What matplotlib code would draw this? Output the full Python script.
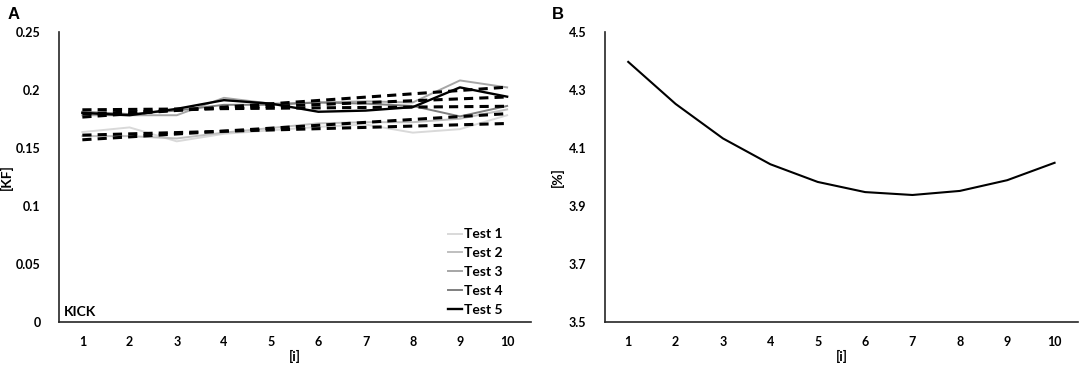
import numpy as np
import matplotlib
matplotlib.use("Agg")
import matplotlib.pyplot as plt

plt.rcParams['font.family'] = ['Lato', 'DejaVu Sans']
plt.rcParams['font.weight'] = 'bold'

# data
reps = [1, 2, 3, 4, 5, 6, 7, 8, 9, 10]
test_names = ['Test 1', 'Test 2', 'Test 3', 'Test 4', 'Test 5']
test1 = [0.1635, 0.1675, 0.1555, 0.162, 0.165, 0.168, 0.170, 0.163, 0.166, 0.178]
test2 = [0.160, 0.160, 0.158, 0.163, 0.167, 0.171, 0.172, 0.172, 0.175, 0.183]
test3 = [0.178, 0.178, 0.178, 0.193, 0.188, 0.189, 0.190, 0.189, 0.208, 0.202]
test4 = [0.181, 0.179, 0.182, 0.187, 0.187, 0.189, 0.188, 0.186, 0.177, 0.186]
test5 = [0.180, 0.178, 0.1835, 0.191, 0.188, 0.181, 0.182, 0.185, 0.202, 0.194]
test_colors = ['#d9d9d9', '#bfbfbf', '#a6a6a6', '#7f7f7f', '#000000']
error_pct = [4.396, 4.251, 4.132, 4.043, 3.982, 3.947, 3.937, 3.951, 3.988, 4.048]

fig = plt.figure(figsize=(10.84, 3.65), dpi=100)
axA = fig.add_axes([0.0542, 0.1186, 0.4354, 0.7945])
axB = fig.add_axes([0.5577, 0.1186, 0.437, 0.7945])

x = np.array(reps)
for name, vals, col in zip(test_names, [test1, test2, test3, test4, test5], test_colors):
    lw = 1.7 if col == '#000000' else 1.4
    axA.plot(x, vals, color=col, lw=lw, label=name, zorder=2)
# linear trend lines
for vals in [test1, test2, test3, test4, test5]:
    k, b = np.polyfit(x, vals, 1)
    axA.plot(x, k * x + b, color='black', lw=2.2, ls=(0, (3, 2)), zorder=3)

axA.set_xlim(0.5, 10.5)
axA.set_ylim(0, 0.25)
axA.set_yticks([0, 0.05, 0.1, 0.15, 0.2, 0.25])
axA.set_yticklabels(['0', '0.05', '0.1', '0.15', '0.2', '0.25'])
axA.set_ylabel('[KF]', fontsize=10, fontweight='bold')
axA.yaxis.set_label_coords(-0.098, 0.5)
axA.text(0.01, 0.035, 'KICK', transform=axA.transAxes, fontsize=10,
         fontweight='bold', va='center', ha='left')
axA.legend(loc='lower right', frameon=False, fontsize=10, handlelength=1.0,
           handletextpad=0.15, labelspacing=0.5, borderaxespad=0.0,
           bbox_to_anchor=(0.952, 0.0))

axB.plot(x, error_pct, color='black', lw=1.5)
axB.set_xlim(0.5, 10.5)
axB.set_ylim(3.5, 4.5)
axB.set_yticks([3.5, 3.7, 3.9, 4.1, 4.3, 4.5])
axB.set_yticklabels(['3.5', '3.7', '3.9', '4.1', '4.3', '4.5'])
axB.set_ylabel('[%]', fontsize=10, fontweight='bold')
axB.yaxis.set_label_coords(-0.085, 0.5)

for ax in (axA, axB):
    ax.set_xticks(reps)
    ax.set_xlabel('[i]', fontsize=10, fontweight='bold')
    ax.xaxis.set_label_coords(0.5, -0.098)
    for s in ('top', 'right'):
        ax.spines[s].set_visible(False)
    for s in ('left', 'bottom'):
        ax.spines[s].set_linewidth(1.2)
        ax.spines[s].set_color('#262626')
    ax.tick_params(length=0, labelsize=9)
    ax.tick_params(axis='x', pad=10)
    ax.tick_params(axis='y', pad=13)
    for lab in ax.get_xticklabels() + ax.get_yticklabels():
        lab.set_fontweight('bold')

fig.text(0.007, 0.96, 'A', fontsize=12, fontweight='bold',
         family=['Liberation Sans', 'DejaVu Sans'], va='center')
fig.text(0.509, 0.96, 'B', fontsize=12, fontweight='bold',
         family=['Liberation Sans', 'DejaVu Sans'], va='center')

fig.savefig('out.png', dpi=100)
